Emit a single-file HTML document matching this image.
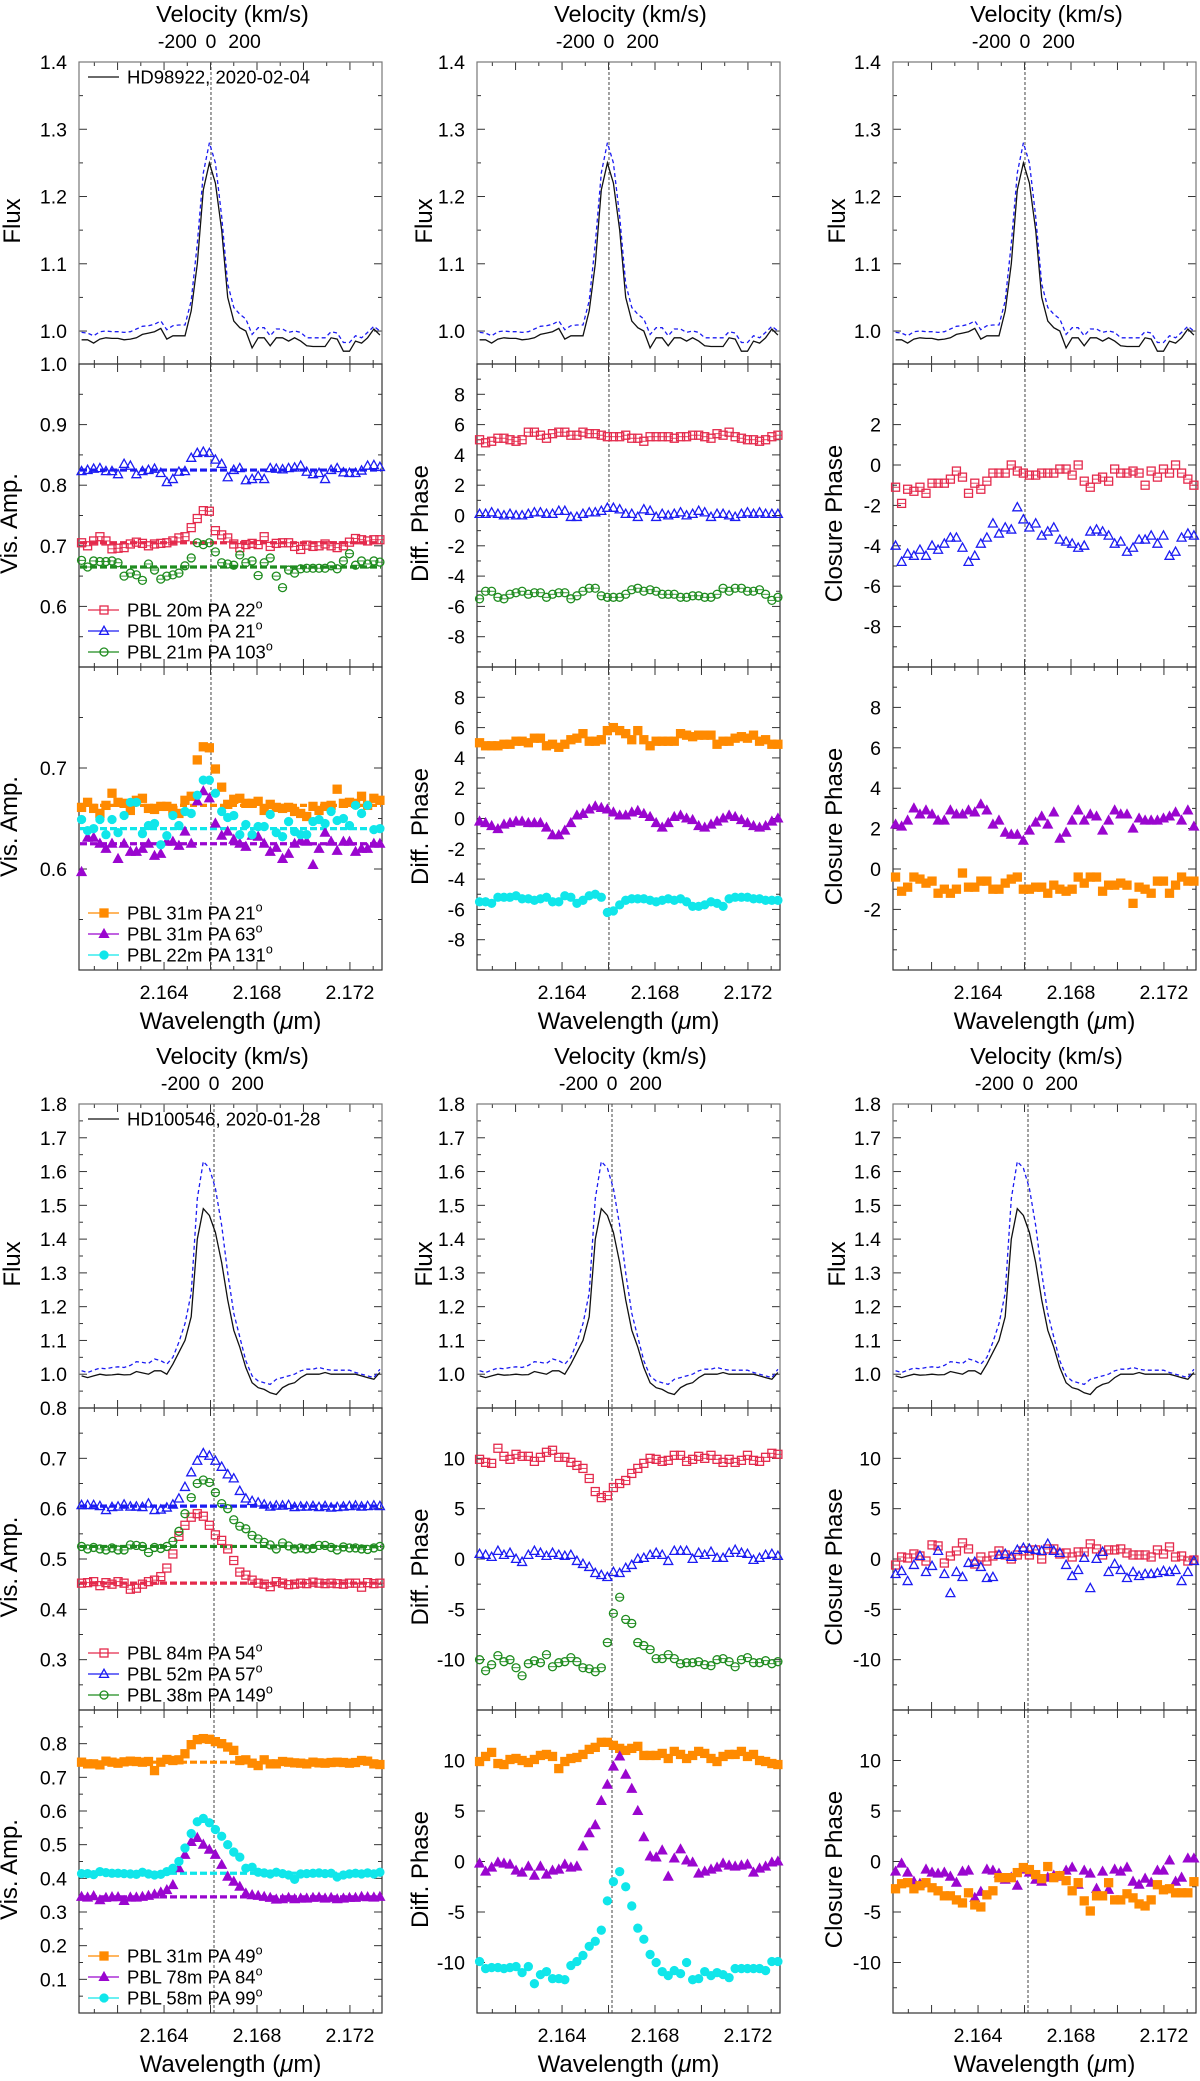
<!DOCTYPE html>
<html><head><meta charset="utf-8"><style>
html,body{margin:0;padding:0;background:#fff;}
svg{display:block;font-family:"Liberation Sans",Arial,sans-serif;}
</style></head><body>
<svg id="fig" width="1200" height="2081" viewBox="0 0 1200 2081" xmlns="http://www.w3.org/2000/svg"></svg>
<script>
// ---------- data ----------
const WL = [2.16045,2.16071,2.16097,2.16124,2.16150,2.16176,2.16202,2.16228,2.16255,2.16281,2.16307,2.16333,2.16359,2.16386,2.16412,2.16438,2.16464,2.16490,2.16517,2.16543,2.16569,2.16595,2.16621,2.16648,2.16674,2.16700,2.16726,2.16752,2.16779,2.16805,2.16831,2.16857,2.16883,2.16910,2.16936,2.16962,2.16988,2.17014,2.17041,2.17067,2.17093,2.17119,2.17145,2.17172,2.17198,2.17224,2.17250,2.17276,2.17303,2.17329];
const X_MAJOR = [2.162,2.164,2.166,2.168,2.170,2.172];
const X_MINOR = [2.161,2.163,2.165,2.167,2.169,2.171,2.173];
const X_LABELS = [2.164,2.168,2.172];
const VEL_LABELS = [-200,0,200];
const LINE_CENTER = [2.16602,2.16615];

// HD98922
const FLUX_A_OBS = [0.987,0.987,0.982,0.988,0.99,0.989,0.989,0.987,0.988,0.99,0.995,0.997,0.999,1.004,0.988,0.993,0.993,0.993,1.03,1.10,1.21,1.25,1.22,1.15,1.05,1.015,1.005,1.0,0.975,0.99,0.99,0.978,0.99,0.99,0.985,0.99,0.985,0.978,0.977,0.977,0.977,0.99,0.988,0.97,0.97,0.985,0.982,0.99,1.003,0.994];
const FLUX_A_MOD = [0.998,0.997,0.993,0.999,1.0,0.999,0.999,0.998,0.999,1.003,1.007,1.008,1.01,1.015,1.002,1.008,1.009,1.009,1.045,1.13,1.235,1.28,1.25,1.17,1.07,1.035,1.025,1.018,0.995,1.005,1.005,0.993,1.003,1.003,0.998,1.0,0.998,0.99,0.99,0.99,0.99,0.999,0.997,0.983,0.983,0.993,0.99,0.998,1.007,1.0];
const VIS_A1_RED = [0.705,0.7,0.708,0.715,0.708,0.695,0.696,0.697,0.703,0.706,0.704,0.7,0.703,0.704,0.705,0.708,0.713,0.715,0.73,0.745,0.758,0.757,0.725,0.718,0.713,0.703,0.697,0.702,0.704,0.702,0.715,0.699,0.704,0.705,0.705,0.699,0.694,0.701,0.699,0.7,0.703,0.7,0.697,0.7,0.706,0.712,0.71,0.708,0.71,0.71];
const VIS_A1_BLUE = [0.823,0.825,0.827,0.828,0.823,0.823,0.818,0.835,0.832,0.818,0.823,0.825,0.827,0.82,0.805,0.81,0.822,0.823,0.845,0.853,0.855,0.853,0.842,0.835,0.813,0.825,0.828,0.808,0.81,0.815,0.81,0.828,0.827,0.826,0.828,0.829,0.832,0.822,0.818,0.82,0.81,0.825,0.828,0.821,0.82,0.82,0.824,0.832,0.833,0.83];
const VIS_A1_GREEN = [0.676,0.665,0.675,0.674,0.674,0.675,0.672,0.65,0.655,0.652,0.643,0.67,0.66,0.645,0.65,0.652,0.655,0.667,0.68,0.705,0.702,0.705,0.69,0.672,0.67,0.668,0.685,0.672,0.675,0.651,0.672,0.68,0.65,0.631,0.66,0.655,0.662,0.663,0.663,0.663,0.663,0.667,0.662,0.675,0.687,0.668,0.675,0.67,0.675,0.673];
const VIS_A1_BASE = [0.705,0.825,0.665];
const VIS_A2_ORANGE = [0.661,0.666,0.66,0.655,0.663,0.675,0.666,0.665,0.658,0.668,0.67,0.66,0.659,0.662,0.662,0.658,0.655,0.668,0.672,0.708,0.721,0.72,0.699,0.681,0.664,0.669,0.67,0.665,0.665,0.667,0.658,0.664,0.661,0.66,0.661,0.657,0.655,0.652,0.662,0.658,0.662,0.663,0.679,0.665,0.666,0.665,0.672,0.663,0.67,0.668];
const VIS_A2_PURPLE = [0.597,0.631,0.631,0.625,0.62,0.625,0.61,0.625,0.617,0.617,0.62,0.625,0.613,0.615,0.627,0.627,0.623,0.637,0.625,0.667,0.677,0.67,0.645,0.633,0.637,0.629,0.625,0.622,0.633,0.632,0.625,0.617,0.621,0.61,0.615,0.625,0.628,0.627,0.604,0.62,0.636,0.627,0.618,0.627,0.627,0.617,0.62,0.62,0.625,0.625];
const VIS_A2_CYAN = [0.649,0.638,0.64,0.649,0.634,0.649,0.636,0.653,0.666,0.666,0.635,0.643,0.645,0.624,0.633,0.653,0.643,0.657,0.655,0.673,0.688,0.688,0.675,0.657,0.651,0.653,0.634,0.644,0.634,0.642,0.642,0.654,0.636,0.632,0.647,0.637,0.634,0.634,0.647,0.649,0.645,0.657,0.648,0.65,0.643,0.663,0.655,0.663,0.639,0.64];
const VIS_A2_BASE = [0.663,0.625,0.640];
const DP_A1_RED = [5.0,4.8,4.9,5.1,5.1,5.0,4.9,5.0,5.5,5.5,5.3,5.1,5.4,5.5,5.5,5.3,5.3,5.5,5.4,5.4,5.3,5.2,5.2,5.2,5.3,5.1,5.1,4.9,5.2,5.2,5.2,5.2,5.1,5.2,5.2,5.3,5.3,5.2,5.1,5.4,5.3,5.5,5.2,5.1,5.0,5.0,4.9,5.0,5.2,5.3];
const DP_A1_BLUE = [0.1,0.1,0.2,0.1,0.0,0.1,0.0,0.0,0.1,0.2,0.2,0.1,0.1,0.3,0.3,-0.1,-0.1,0.1,0.2,0.2,0.3,0.5,0.5,0.4,0.1,0.1,-0.1,0.4,0.3,-0.1,0.1,0.0,0.1,0.2,0.0,0.1,0.3,0.2,-0.1,0.1,0.1,0.0,-0.1,0.1,0.2,0.1,0.2,0.1,0.1,0.1];
const DP_A1_GREEN = [-5.5,-5.0,-5.0,-5.4,-5.5,-5.2,-5.1,-5.0,-5.2,-5.1,-5.1,-5.4,-5.2,-5.1,-5.1,-5.5,-5.3,-5.0,-4.8,-4.8,-5.3,-5.4,-5.4,-5.4,-5.2,-4.9,-4.8,-5.0,-4.9,-5.0,-5.2,-5.2,-5.2,-5.4,-5.4,-5.3,-5.3,-5.4,-5.4,-5.2,-4.8,-5.0,-4.8,-4.8,-5.0,-5.0,-4.9,-5.2,-5.6,-5.4];
const DP_A2_ORANGE = [5.0,4.8,4.8,4.8,4.9,4.9,5.1,5.1,5.0,5.3,5.3,4.8,4.9,4.7,4.9,5.2,5.3,5.6,5.1,5.1,5.2,5.8,6.0,5.8,5.6,5.2,5.8,5.2,4.8,5.1,5.1,5.1,5.1,5.6,5.5,5.4,5.5,5.5,5.5,4.9,5.1,5.1,5.3,5.4,5.3,5.5,5.1,5.2,4.9,4.9];
const DP_A2_PURPLE = [-0.2,-0.3,-0.5,-0.7,-0.4,-0.3,-0.2,-0.2,-0.3,-0.3,-0.3,-0.6,-1.1,-1.1,-0.8,-0.3,0.2,0.3,0.6,0.8,0.7,0.6,0.4,0.2,0.2,0.4,0.5,0.3,0.1,-0.3,-0.6,-0.3,0.1,0.2,0.0,-0.1,-0.5,-0.6,-0.4,-0.2,0.0,0.2,0.1,-0.1,-0.3,-0.5,-0.6,-0.5,-0.2,0.0];
const DP_A2_CYAN = [-5.5,-5.5,-5.6,-5.2,-5.2,-5.2,-5.1,-5.3,-5.3,-5.4,-5.3,-5.2,-5.5,-5.5,-5.1,-5.2,-5.6,-5.4,-5.1,-5.0,-5.2,-6.2,-6.1,-5.7,-5.4,-5.3,-5.3,-5.3,-5.4,-5.5,-5.4,-5.3,-5.4,-5.3,-5.5,-5.8,-5.8,-5.7,-5.5,-5.6,-5.8,-5.3,-5.2,-5.2,-5.2,-5.3,-5.3,-5.4,-5.4,-5.4];
const CP_A1_RED = [-1.1,-1.9,-1.2,-1.3,-1.1,-1.4,-0.9,-0.9,-0.9,-0.7,-0.3,-0.6,-1.4,-0.9,-1.2,-0.8,-0.4,-0.4,-0.4,0.0,-0.3,-0.4,-0.5,-0.5,-0.4,-0.4,-0.4,-0.2,-0.2,-0.5,0.0,-0.8,-1.1,-0.7,-0.6,-0.8,-0.2,-0.4,-0.4,-0.3,-0.4,-1.0,-0.3,-0.6,-0.2,-0.4,0.0,-0.4,-0.7,-1.0];
const CP_A1_BLUE = [-4.0,-4.8,-4.4,-4.5,-4.2,-4.5,-4.0,-4.2,-3.9,-3.6,-3.6,-4.1,-4.8,-4.5,-3.9,-3.6,-2.9,-3.4,-3.1,-3.2,-2.1,-2.7,-3.1,-2.9,-3.5,-3.3,-3.1,-3.7,-3.8,-3.9,-4.1,-4.0,-3.3,-3.2,-3.3,-3.5,-3.9,-3.8,-4.3,-4.1,-3.7,-3.7,-3.5,-3.9,-3.5,-4.5,-4.3,-3.6,-3.4,-3.5];
const CP_A2_PURPLE = [2.2,2.1,2.4,3.0,2.7,2.9,2.7,2.4,2.4,2.9,2.7,2.7,2.9,2.8,3.2,2.9,2.2,2.4,1.8,1.7,1.7,1.4,1.9,2.3,2.6,2.2,2.8,1.5,1.8,2.4,2.9,2.4,2.7,2.6,1.9,2.4,2.9,2.7,2.7,2.0,2.5,2.4,2.4,2.4,2.5,2.6,2.8,2.4,2.9,2.1];
const CP_A2_ORANGE = [-0.4,-1.1,-0.9,-0.4,-0.5,-0.7,-0.6,-1.2,-1.0,-1.2,-1.0,-0.2,-0.9,-0.9,-0.6,-0.6,-1.0,-1.0,-0.7,-0.5,-0.4,-1.0,-1.0,-0.9,-0.9,-1.2,-0.8,-1.0,-1.1,-1.0,-0.4,-0.7,-0.4,-0.4,-1.1,-0.8,-0.8,-0.7,-0.8,-1.7,-0.9,-1.0,-1.2,-0.6,-0.6,-1.2,-0.8,-0.4,-0.6,-0.6];

// HD100546
const FLUX_B_OBS = [0.995,0.99,0.995,1.0,0.997,0.998,1.0,0.998,0.999,1.008,1.004,1.0,1.01,1.01,1.0,1.03,1.065,1.10,1.17,1.40,1.49,1.47,1.42,1.33,1.22,1.13,1.08,1.02,0.975,0.96,0.955,0.945,0.94,0.96,0.97,0.975,0.99,1.0,1.0,1.0,1.005,1.0,1.0,1.0,1.0,1.0,0.995,0.99,0.985,1.005];
const FLUX_B_MOD = [1.01,1.005,1.012,1.018,1.016,1.02,1.022,1.02,1.026,1.037,1.035,1.032,1.045,1.04,1.03,1.05,1.095,1.15,1.24,1.52,1.63,1.61,1.55,1.44,1.3,1.18,1.11,1.04,0.995,0.98,0.975,0.97,0.985,0.99,0.995,1.0,1.01,1.015,1.015,1.02,1.015,1.012,1.012,1.012,1.012,1.005,1.0,0.995,0.99,1.015];
const VIS_B1_RED = [0.452,0.453,0.455,0.447,0.453,0.45,0.455,0.452,0.44,0.442,0.45,0.455,0.458,0.465,0.482,0.51,0.545,0.567,0.583,0.59,0.585,0.567,0.548,0.537,0.52,0.497,0.474,0.468,0.458,0.452,0.45,0.445,0.455,0.452,0.449,0.45,0.452,0.451,0.454,0.452,0.451,0.452,0.451,0.45,0.452,0.452,0.444,0.453,0.451,0.452];
const VIS_B1_BLUE = [0.607,0.607,0.607,0.605,0.597,0.603,0.604,0.608,0.604,0.604,0.603,0.61,0.597,0.598,0.602,0.608,0.62,0.643,0.672,0.695,0.71,0.705,0.695,0.683,0.668,0.66,0.635,0.62,0.615,0.612,0.608,0.604,0.606,0.606,0.607,0.603,0.604,0.604,0.605,0.603,0.605,0.602,0.603,0.604,0.605,0.606,0.604,0.605,0.606,0.605];
const VIS_B1_GREEN = [0.525,0.52,0.523,0.52,0.518,0.522,0.518,0.518,0.528,0.527,0.525,0.513,0.523,0.521,0.525,0.535,0.555,0.59,0.622,0.65,0.657,0.652,0.632,0.61,0.6,0.578,0.565,0.56,0.547,0.54,0.533,0.528,0.52,0.532,0.526,0.52,0.522,0.52,0.521,0.527,0.527,0.523,0.518,0.524,0.522,0.522,0.52,0.519,0.522,0.525];
const VIS_B1_BASE = [0.452,0.605,0.525];
const VIS_B2_ORANGE = [0.745,0.74,0.74,0.737,0.748,0.745,0.742,0.746,0.748,0.747,0.745,0.747,0.72,0.745,0.753,0.75,0.752,0.77,0.797,0.812,0.815,0.813,0.806,0.8,0.79,0.78,0.75,0.752,0.742,0.735,0.752,0.74,0.74,0.747,0.745,0.743,0.742,0.74,0.745,0.743,0.742,0.744,0.745,0.744,0.742,0.744,0.75,0.748,0.74,0.738];
const VIS_B2_PURPLE = [0.345,0.343,0.347,0.335,0.342,0.344,0.344,0.333,0.343,0.343,0.345,0.348,0.352,0.358,0.365,0.38,0.43,0.47,0.508,0.52,0.5,0.485,0.47,0.44,0.405,0.39,0.375,0.355,0.35,0.348,0.345,0.342,0.337,0.338,0.342,0.338,0.34,0.34,0.342,0.343,0.34,0.342,0.338,0.34,0.342,0.342,0.345,0.344,0.343,0.345];
const VIS_B2_CYAN = [0.414,0.414,0.411,0.42,0.417,0.415,0.415,0.414,0.413,0.412,0.418,0.413,0.41,0.412,0.42,0.43,0.45,0.49,0.533,0.568,0.578,0.565,0.545,0.525,0.5,0.478,0.463,0.43,0.433,0.418,0.416,0.413,0.418,0.414,0.41,0.397,0.413,0.414,0.415,0.416,0.414,0.415,0.404,0.41,0.413,0.415,0.413,0.416,0.413,0.418];
const VIS_B2_BASE = [0.745,0.345,0.415];
const DP_B1_RED = [9.9,9.6,9.5,11.0,10.2,9.9,10.4,10.2,10.2,9.7,10.1,10.6,10.8,10.1,10.1,9.6,9.3,9.0,8.0,6.7,6.1,6.3,7.1,7.5,7.8,8.5,9.0,9.5,10.0,9.9,9.7,9.8,10.3,10.3,9.7,9.9,10.2,10.0,10.3,9.9,9.6,9.9,9.6,9.8,10.3,9.8,9.7,10.1,10.5,10.4];
const DP_B1_BLUE = [0.5,0.4,0.2,0.8,0.4,0.6,0.0,-0.3,0.4,0.8,0.6,0.3,0.6,0.4,0.3,0.4,-0.2,-0.5,-0.8,-1.4,-1.6,-1.8,-1.3,-1.4,-0.9,-0.6,0.0,0.1,0.4,0.6,0.4,-0.2,0.8,0.8,0.8,0.0,0.6,0.4,0.7,0.1,0.1,0.6,0.9,0.6,0.5,-0.1,0.1,0.4,0.5,0.3];
const DP_B1_GREEN = [-10.0,-11.1,-10.5,-9.6,-10.2,-10.0,-10.8,-11.6,-10.4,-10.1,-10.3,-9.5,-10.7,-10.3,-10.2,-9.8,-10.2,-10.8,-10.9,-11.2,-10.8,-8.3,-5.4,-3.8,-6.0,-6.4,-8.3,-8.6,-9.0,-9.9,-9.9,-9.5,-9.9,-10.4,-10.3,-10.3,-10.2,-10.5,-10.6,-10.0,-9.9,-10.2,-10.7,-10.0,-9.8,-10.3,-10.3,-10.1,-10.4,-10.2];
const DP_B2_ORANGE = [9.9,10.4,10.8,9.7,9.6,10.1,10.2,10.0,9.8,10.1,10.5,10.6,10.4,9.2,9.9,10.2,10.3,10.6,11.1,11.3,11.8,11.8,11.5,11.2,11.0,11.2,11.4,10.5,10.5,10.5,10.7,10.2,10.9,10.6,10.2,10.5,10.9,10.7,10.2,9.9,10.4,10.6,10.6,10.9,10.4,10.6,10.0,9.9,9.7,9.6];
const DP_B2_PURPLE = [-0.2,-1.0,-0.6,-0.1,-0.2,-0.3,-0.9,-1.1,-0.5,-1.4,-0.5,-1.3,-0.9,-0.8,-0.3,-0.6,-0.5,1.5,2.8,3.6,6.0,7.6,9.4,10.4,8.6,7.2,5.0,2.4,0.5,0.4,1.1,-1.5,0.3,1.2,0.1,-0.1,-1.2,-1.0,-0.8,-0.6,-0.2,-0.4,-0.5,-0.4,-0.3,-1.1,-0.7,-0.5,-0.1,0.0];
const DP_B2_CYAN = [-9.9,-10.6,-10.5,-10.5,-10.6,-10.5,-10.4,-11.0,-10.4,-12.1,-11.2,-10.9,-11.6,-11.6,-11.7,-10.3,-9.9,-9.3,-8.4,-7.9,-6.8,-3.9,-2.0,-1.0,-2.5,-4.4,-6.6,-7.7,-9.2,-10.0,-10.9,-11.3,-10.8,-11.1,-10.0,-11.7,-11.6,-10.9,-11.3,-11.0,-11.2,-11.5,-10.6,-10.6,-10.6,-10.6,-10.6,-10.8,-9.9,-9.9];
const CP_B1_RED = [-0.6,0.2,0.1,0.5,0.3,-0.2,1.4,1.3,-0.4,0.3,0.8,1.6,1.0,-0.5,0.2,-0.2,0.3,0.8,0.4,0.0,0.4,0.8,0.4,0.9,0.0,1.0,1.0,0.5,0.6,0.2,0.7,0.7,1.5,1.0,0.4,0.9,0.9,1.0,0.6,0.4,0.4,0.4,0.2,0.9,0.5,1.2,0.2,0.3,-0.2,-0.1];
const CP_B1_BLUE = [-1.5,-1.2,-2.2,-0.6,0.3,-1.3,-0.7,0.8,-1.5,-3.4,-1.3,-1.8,-0.4,-0.3,-0.8,-1.9,-1.8,0.4,0.5,0.2,0.9,1.1,1.0,0.9,0.8,1.5,0.8,0.6,-0.6,-1.7,-1.1,0.1,-2.9,0.0,0.7,-1.3,-0.5,-1.1,-1.9,-1.3,-1.7,-1.5,-1.5,-1.4,-1.2,-1.3,-1.1,-2.2,-1.3,-0.2];
const CP_B2_PURPLE = [-1.0,-0.2,-1.1,-2.0,-2.2,-0.8,-1.1,-1.2,-1.1,-1.5,-2.1,-1.0,-0.9,-3.6,-3.0,-0.8,-0.9,-1.2,-1.8,-1.6,-2.4,-0.8,-1.1,-1.8,-2.0,-1.6,-1.4,-1.5,-0.9,-0.6,-2.3,-0.9,-1.2,-2.7,-1.0,-2.8,-0.8,-1.0,-0.6,-2.0,-2.3,-1.7,-2.1,-0.9,-0.9,0.1,-2.0,-1.6,0.3,0.3];
const CP_B2_ORANGE = [-2.7,-2.2,-2.1,-2.7,-2.4,-2.1,-2.6,-2.9,-3.4,-3.4,-3.8,-4.1,-3.1,-4.3,-4.5,-3.3,-2.9,-1.6,-1.6,-1.6,-1.1,-0.6,-0.8,-1.3,-1.7,-0.5,-1.6,-1.4,-1.9,-2.9,-2.1,-3.9,-4.9,-3.4,-3.4,-2.1,-3.8,-3.8,-3.2,-3.6,-4.2,-4.4,-3.8,-2.3,-2.8,-2.7,-3.1,-3.1,-3.1,-2.0];

// ---------- layout ----------
const RED='#e42a4c', BLUE='#1c1cf2', GREEN='#1f8c1f', ORANGE='#ff8a00', PURPLE='#9a06cf', CYAN='#10e6ea';
const COLS=[79,477,893], PW=303, X0=2.16034, X1=2.17338;
const svg=document.getElementById('fig');
const NS='http://www.w3.org/2000/svg';
function mk(tag,attrs,parent){const e=document.createElementNS(NS,tag);for(const k in attrs)e.setAttribute(k,attrs[k]);(parent||svg).appendChild(e);return e;}
function xp(c,w){return COLS[c]+(w-X0)/(X1-X0)*PW;}
function yp(p,v){return p.y+(p.max-v)/(p.max-p.min)*p.h;}
function fmt(v,d){return v.toFixed(d);}

function marker(g,type,cx,cy,color){
  let e;
  const s=4;
  if(type==='osq'||type==='fsq'){
    e=mk('rect',{x:cx-s,y:cy-s,width:2*s,height:2*s,fill:type==='fsq'?color:'none',stroke:color,'stroke-width':1.3},g);
    if(type==='osq'){mk('line',{x1:cx-s,x2:cx+s,y1:cy,y2:cy,stroke:color,'stroke-width':0.9},g);}
  } else if(type==='otri'||type==='ftri'){
    e=mk('polygon',{points:`${cx},${cy-4.8} ${cx-4.5},${cy+3.4} ${cx+4.5},${cy+3.4}`,fill:type==='ftri'?color:'none',stroke:color,'stroke-width':1.3},g);
  } else {
    e=mk('circle',{cx:cx,cy:cy,r:4,fill:type==='fcirc'?color:'none',stroke:color,'stroke-width':1.3},g);
    if(type==='ocirc'){mk('line',{x1:cx-4,x2:cx+4,y1:cy,y2:cy,stroke:color,'stroke-width':0.9},g);}
  }
  
  
}

function panel(spec){
  const c=spec.col;
  const p={y:spec.y,h:spec.h,min:spec.min,max:spec.max};
  const g=mk('g',{});
  
  
  const x0=COLS[c], x1=COLS[c]+PW, y0=p.y, y1=p.y+p.h;
  X_MAJOR.forEach(t=>{const x=xp(c,t);
    mk('line',{x1:x,x2:x,y1:y1,y2:y1-8,stroke:'#333','stroke-width':1},g);
    mk('line',{x1:x,x2:x,y1:y0,y2:y0+8,stroke:'#333','stroke-width':1},g);});
  X_MINOR.forEach(t=>{const x=xp(c,t); if(x>x1)return;
    mk('line',{x1:x,x2:x,y1:y1,y2:y1-4,stroke:'#333','stroke-width':1},g);
    mk('line',{x1:x,x2:x,y1:y0,y2:y0+4,stroke:'#333','stroke-width':1},g);});
  for(let v=spec.minorStart; v<=p.max+1e-9; v+=spec.minorStep){
    const y=yp(p,v); if(y<y0-0.5||y>y1+0.5)continue;
    const isMaj=spec.labels.some(l=>Math.abs(l-v)<1e-6);
    const L=isMaj?8:4;
    mk('line',{x1:x0,x2:x0+L,y1:y,y2:y,stroke:'#333','stroke-width':1},g);
    mk('line',{x1:x1,x2:x1-L,y1:y,y2:y,stroke:'#333','stroke-width':1},g);
  }
  spec.labels.forEach(v=>{
    const t=mk('text',{x:x0-12,y:yp(p,v)+7,'text-anchor':'end','font-size':19.5,fill:'#000'},g);
    t.textContent=fmt(v,spec.dec);
    
    
  });
  const fr=mk('rect',{x:x0,y:y0,width:PW,height:p.h,fill:'none',stroke:spec.frame||'#333','stroke-width':1.2},g);
  
  
  const tt=mk('text',{x:0,y:0,'text-anchor':'middle','font-size':24,fill:'#000',transform:`translate(${spec.titleX},${y0+p.h/2+8}) rotate(-90)`},g);
  tt.textContent=spec.title;
  
  
  const lx=xp(c,LINE_CENTER[spec.half]);
  const vl=mk('line',{x1:lx,x2:lx,y1:y0,y2:y1,stroke:'#444','stroke-width':1,'stroke-dasharray':'3,2'},g);
  
  
  (spec.bases||[]).forEach((b,i)=>{
    const y=yp(p,b);
    const bl=mk('line',{x1:x0+1,x2:x1-1,y1:y,y2:y,stroke:spec.series[i].color,'stroke-width':3.2,'stroke-dasharray':'7,3'},g);
    
    
  });
  spec.series.forEach(s=>{
    const n=Math.min(s.data.length,WL.length);
    if(s.line){
      let d='';
      for(let i=0;i<n;i++){d+=(i?'L':'M')+xp(c,WL[i]).toFixed(1)+','+yp(p,s.data[i]).toFixed(1);}
      const pl=mk('path',{d:d,fill:'none',stroke:s.color,'stroke-width':1.3,'stroke-dasharray':s.line==='dash'?'4,3':'none'},g);
      
      
    } else {
      const sg=mk('g',{},g);
      
      
      for(let i=0;i<n;i++){marker(sg,s.marker,xp(c,WL[i]),yp(p,s.data[i]),s.color);}
    }
  });
  if(spec.legend){
    const lg=mk('g',{},g);
    
    
    spec.legend.forEach((L,i)=>{
      const cy=spec.legendFromTop? y0+15 : y1-57+i*21;
      const e=mk('line',{x1:x0+9,x2:x0+40,y1:cy,y2:cy,stroke:L.color,'stroke-width':1.2},lg);
      
      
      if(L.marker) marker(lg,L.marker,x0+25,cy,L.color);
      const t=mk('text',{x:x0+48,y:cy+6.5,'font-size':18.5,fill:'#000'},lg);
      
      
      t.appendChild(document.createTextNode(L.text));
      if(L.deg){const sp=mk('tspan',{dy:-8,'font-size':12.5},t);sp.textContent='o';}
    });
  }
  if(spec.xlabels){
    X_LABELS.forEach(v=>{
      const t=mk('text',{x:xp(c,v),y:y1+29,'text-anchor':'middle','font-size':19.5,fill:'#000'},g);
      t.textContent=v.toFixed(3);
      
      
    });
    const xt=mk('text',{x:x0+PW/2,y:y1+59,'text-anchor':'middle','font-size':24,fill:'#000'},g);
    xt.textContent='Wavelength (';
    const mu=mk('tspan',{'font-style':'italic'},xt); mu.textContent='\u03bc';
    xt.appendChild(document.createTextNode('m)'));
    
    
  }
  if(spec.velocity){
    const vt=mk('text',{x:x0+PW/2+2,y:y0-40,'text-anchor':'middle','font-size':23.5,fill:'#000'},g);
    vt.textContent='Velocity (km/s)';
    
    
    VEL_LABELS.forEach(v=>{
      const lam=LINE_CENTER[spec.half]*(1+v/299792.458);
      const t=mk('text',{x:xp(c,lam),y:y0-14,'text-anchor':'middle','font-size':19.5,fill:'#000'},g);
      t.textContent=String(v);
      
      
    });
  }
}

const LEG_A1=[{text:'PBL 20m PA 22',marker:'osq',color:RED,deg:1},{text:'PBL 10m PA 21',marker:'otri',color:BLUE,deg:1},{text:'PBL 21m PA 103',marker:'ocirc',color:GREEN,deg:1}];
const LEG_A2=[{text:'PBL 31m PA 21',marker:'fsq',color:ORANGE,deg:1},{text:'PBL 31m PA 63',marker:'ftri',color:PURPLE,deg:1},{text:'PBL 22m PA 131',marker:'fcirc',color:CYAN,deg:1}];
const LEG_B1=[{text:'PBL 84m PA 54',marker:'osq',color:RED,deg:1},{text:'PBL 52m PA 57',marker:'otri',color:BLUE,deg:1},{text:'PBL 38m PA 149',marker:'ocirc',color:GREEN,deg:1}];
const LEG_B2=[{text:'PBL 31m PA 49',marker:'fsq',color:ORANGE,deg:1},{text:'PBL 78m PA 84',marker:'ftri',color:PURPLE,deg:1},{text:'PBL 58m PA 99',marker:'fcirc',color:CYAN,deg:1}];

const TITLE_X=[[20,17],[432,428],[845,842]];
function halfSpecs(h){
  const A=h===0;
  const Y=A?[62,364,667]:[1104,1408,1710];
  const H=A?[302,303,303]:[304,302,303];
  const fluxObs=A?FLUX_A_OBS:FLUX_B_OBS, fluxMod=A?FLUX_A_MOD:FLUX_B_MOD;
  const fmin=A?0.951:0.9, fmax=A?1.4:1.8;
  const flabels=A?[1.0,1.1,1.2,1.3,1.4]:[1.0,1.1,1.2,1.3,1.4,1.5,1.6,1.7,1.8];
  const specs=[];
  for(let c=0;c<3;c++){
    specs.push({name:(A?'hd98922':'hd100546')+'-flux-panel-'+(c+1),half:h,col:c,y:Y[0],h:H[0],min:fmin,max:fmax,labels:flabels,dec:1,minorStart:0.9,minorStep:0.05,title:'Flux',titleX:TITLE_X[c][0],frame:'#777',velocity:true,
      series:[{name:'flux-observed',data:fluxObs,line:'solid',color:'#111'},{name:'flux-model',data:fluxMod,line:'dash',color:BLUE}],
      legend:c===0?[{text:A?'HD98922, 2020-02-04':'HD100546, 2020-01-28',color:'#111'}]:null,legendFromTop:true});
  }
  specs.push({name:'vis-amp-panel-1',half:h,col:0,y:Y[1],h:H[1],min:A?0.5:0.2,max:A?1.0:0.8,labels:A?[0.6,0.7,0.8,0.9,1.0]:[0.3,0.4,0.5,0.6,0.7,0.8],dec:1,minorStart:0.2,minorStep:0.05,title:'Vis. Amp.',titleX:TITLE_X[0][1],
    series:[{name:'vis-red',data:A?VIS_A1_RED:VIS_B1_RED,marker:'osq',color:RED},{name:'vis-blue',data:A?VIS_A1_BLUE:VIS_B1_BLUE,marker:'otri',color:BLUE},{name:'vis-green',data:A?VIS_A1_GREEN:VIS_B1_GREEN,marker:'ocirc',color:GREEN}],
    bases:A?VIS_A1_BASE:VIS_B1_BASE,legend:A?LEG_A1:LEG_B1});
  specs.push({name:'vis-amp-panel-2',half:h,col:0,y:Y[2],h:H[2],min:A?0.5:0.0,max:A?0.8:0.9,labels:A?[0.6,0.7]:[0.1,0.2,0.3,0.4,0.5,0.6,0.7,0.8],dec:1,minorStart:A?0.5:0.05,minorStep:0.05,title:'Vis. Amp.',titleX:TITLE_X[0][1],
    series:[{name:'vis-orange',data:A?VIS_A2_ORANGE:VIS_B2_ORANGE,marker:'fsq',color:ORANGE},{name:'vis-purple',data:A?VIS_A2_PURPLE:VIS_B2_PURPLE,marker:'ftri',color:PURPLE},{name:'vis-cyan',data:A?VIS_A2_CYAN:VIS_B2_CYAN,marker:'fcirc',color:CYAN}],
    bases:A?VIS_A2_BASE:VIS_B2_BASE,legend:A?LEG_A2:LEG_B2,xlabels:true});
  const dpl=A?[-8,-6,-4,-2,0,2,4,6,8]:[-10,-5,0,5,10];
  specs.push({name:'diff-phase-panel-1',half:h,col:1,y:Y[1],h:H[1],min:A?-10:-15,max:A?10:15,labels:dpl,dec:0,minorStart:A?-10:-15,minorStep:A?1:2.5,title:'Diff. Phase',titleX:TITLE_X[1][1],
    series:[{name:'dphi-red',data:A?DP_A1_RED:DP_B1_RED,marker:'osq',color:RED},{name:'dphi-blue',data:A?DP_A1_BLUE:DP_B1_BLUE,marker:'otri',color:BLUE},{name:'dphi-green',data:A?DP_A1_GREEN:DP_B1_GREEN,marker:'ocirc',color:GREEN}]});
  specs.push({name:'diff-phase-panel-2',half:h,col:1,y:Y[2],h:H[2],min:A?-10:-15,max:A?10:15,labels:dpl,dec:0,minorStart:A?-10:-15,minorStep:A?1:2.5,title:'Diff. Phase',titleX:TITLE_X[1][1],xlabels:true,
    series:[{name:'dphi-orange',data:A?DP_A2_ORANGE:DP_B2_ORANGE,marker:'fsq',color:ORANGE},{name:'dphi-purple',data:A?DP_A2_PURPLE:DP_B2_PURPLE,marker:'ftri',color:PURPLE},{name:'dphi-cyan',data:A?DP_A2_CYAN:DP_B2_CYAN,marker:'fcirc',color:CYAN}]});
  specs.push({name:'closure-phase-panel-1',half:h,col:2,y:Y[1],h:H[1],min:A?-10:-15,max:A?5:15,labels:A?[-8,-6,-4,-2,0,2]:[-10,-5,0,5,10],dec:0,minorStart:A?-10:-15,minorStep:A?1:2.5,title:'Closure Phase',titleX:TITLE_X[2][1],
    series:[{name:'cphi-red',data:A?CP_A1_RED:CP_B1_RED,marker:'osq',color:RED},{name:'cphi-blue',data:A?CP_A1_BLUE:CP_B1_BLUE,marker:'otri',color:BLUE}]});
  specs.push({name:'closure-phase-panel-2',half:h,col:2,y:Y[2],h:H[2],min:A?-5:-15,max:A?10:15,labels:A?[-2,0,2,4,6,8]:[-10,-5,0,5,10],dec:0,minorStart:A?-5:-15,minorStep:A?1:2.5,title:'Closure Phase',titleX:TITLE_X[2][1],xlabels:true,
    series:[{name:'cphi-purple',data:A?CP_A2_PURPLE:CP_B2_PURPLE,marker:'ftri',color:PURPLE},{name:'cphi-orange',data:A?CP_A2_ORANGE:CP_B2_ORANGE,marker:'fsq',color:ORANGE}]});
  return specs;
}
halfSpecs(0).forEach(panel);
halfSpecs(1).forEach(panel);
</script>
</body></html>
